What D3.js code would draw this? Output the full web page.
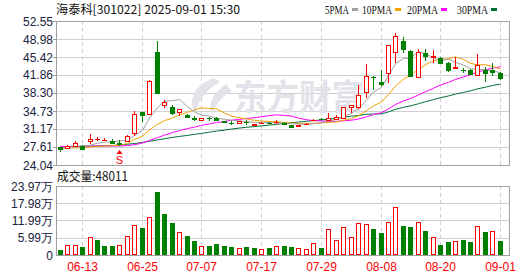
<!DOCTYPE html>
<html><head><meta charset="utf-8">
<script src="https://cdn.jsdelivr.net/npm/d3@7/dist/d3.min.js"></script>
<style>body{margin:0;background:#fff}svg{display:block}</style>
</head><body><div id="chart"></div>
<script>
const dates = ["06-10","06-11","06-12","06-13","06-16","06-17","06-18","06-19","06-20","06-23","06-24","06-25","06-26","06-27","06-30",
"07-01","07-02","07-03","07-04","07-07","07-08","07-09","07-10","07-11","07-14","07-15","07-16","07-17","07-18","07-21","07-22","07-23","07-24","07-25","07-28","07-29","07-30","07-31",
"08-01","08-04","08-05","08-06","08-07","08-08","08-11","08-12","08-13","08-14","08-15","08-18","08-19","08-20","08-21","08-22","08-25","08-26","08-27","08-28","08-29","09-01"];
const open  = [27.6,27.4,27.8,27.8,28.7,29.15,28.9,28.7,28.45,28.85, 30.3,34.47,34.08,46.41,35.9,35.46,34.53,34.0,33.25,32.95, 33.4,33.35,32.75,32.4,32.3,32.55,31.95,32.35,32.35,32.5, 32.4,31.96,31.82,32.15,32.9,33.15,32.95,33.15,33.28,35.46, 35.58,38.55,41.55,40.53,42.19,46.35,48.59,46.61,41.52,46.15, 45.36,45.17,44.3,43.18,42.9,42.85,41.8,42.85,42.85,42.19];
const high  = [27.7,28.0,28.7,28.05,30.2,29.65,29.4,29.25,29.0,30.05, 34.73,34.5,40.8,48.59,36.9,35.92,35.1,34.2,33.74,33.4, 33.6,33.5,32.85,32.7,32.8,32.95,32.25,32.6,32.5,32.95, 32.5,32.0,32.05,32.35,33.2,33.3,34.27,33.88,35.5,35.9, 39.88,44.04,41.6,42.85,47.8,50.11,49.32,46.81,46.95,46.95, 46.81,45.36,44.35,45.36,43.2,43.0,46.02,43.38,44.17,42.51];
const low   = [26.55,27.3,27.7,26.95,28.2,28.7,28.7,28.2,27.9,28.7, 29.8,32.6,33.9,38.1,35.27,33.94,33.74,33.4,32.8,32.9, 32.85,32.85,32.45,32.0,32.3,31.9,31.95,32.2,32.2,32.15, 32.0,31.6,31.8,32.1,32.75,32.9,32.9,33.0,33.2,34.4, 35.07,37.25,38.89,39.74,40.33,44.3,46.15,41.52,41.5,44.69, 44.17,44.04,42.51,43.15,42.2,41.9,41.8,40.53,41.66,40.87];
const close = [27.3,27.9,28.3,27.15,29.25,29.2,28.95,28.45,28.2,29.8, 34.08,33.94,40.67,38.36,36.5,34.4,35.07,33.6,33.2,33.35, 33.35,32.95,32.55,32.35,32.75,32.5,32.2,32.4,32.3,32.6, 32.15,31.63,32.0,32.2,33.0,33.1,33.35,33.5,35.46,35.86, 37.9,41.66,41.5,40.0,47.74,49.58,46.95,41.72,46.35,45.62, 45.68,44.3,42.85,43.44,42.85,42.0,43.78,42.19,42.45,41.2];
const volume = [1.71,3.31,3.31,2.63,6.28,5.14,3.08,3.08,3.31,6.73, 10.5,9.24,13.24,21.9,14.38,10.96,8.1,6.5,4.79,2.97, 3.08,3.77,3.08,2.74,2.28,2.74,2.4,1.94,2.4,3.08, 3.08,2.63,2.28,1.94,4.34,2.4,9.13,5.37,9.81,6.39, 11.18,10.84,8.9,7.53,11.52,16.66,10.15,9.81,11.52,8.22, 6.39,3.42,4.45,5.02,5.14,4.45,10.15,7.88,8.22,4.80];
const volumeUp = [0,1,1,0,1,0,0,0,1,1, 1,0,1,0,0,0,1,0,0,1, 0,0,0,0,1,0,0,1,0,1, 0,0,1,1,1,0,1,1,1,1, 1,1,0,0,1,1,0,0,1,0, 1,0,0,1,0,0,1,0,1,0];
const ma5  = [27.45,27.5,27.65,27.6,27.98,28.36,28.57,28.6,28.81,28.92, 29.9,30.89,33.34,35.37,36.71,36.77,37.0,35.59,34.55,33.92, 33.71,33.29,33.08,32.91,32.79,32.62,32.47,32.44,32.43,32.4, 32.33,32.22,32.14,32.12,32.2,32.39,32.73,33.03,33.68,34.25, 35.21,36.88,38.48,39.38,41.76,44.1,45.15,45.2,46.47,46.04, 45.26,44.73,44.96,44.38,43.82,43.09,42.98,42.85,42.65,42.32];
const ma10 = [27.35,27.4,27.45,27.45,27.6,27.7,27.8,27.85,27.95,28.3, 29.13,29.73,30.97,32.09,32.82,33.34,33.95,34.46,34.96,35.32, 35.24,35.15,34.33,33.73,33.36,33.17,32.88,32.76,32.67,32.6, 32.48,32.34,32.29,32.27,32.3,32.36,32.47,32.58,32.9,33.23, 33.8,34.8,35.75,36.53,38.01,39.66,41.02,41.84,42.93,43.9, 44.68,44.94,45.08,45.42,44.93,44.18,43.86,43.91,43.52,43.07];
const ma20 = [27.7,27.7,27.7,27.75,27.8,27.8,27.8,27.8,27.8,27.9, 28.05,28.4,28.9,29.45,29.95,30.45,30.85,31.25,31.55,31.88, 32.19,32.44,32.65,32.91,33.09,33.25,33.41,33.61,33.82,33.96, 33.86,33.74,33.31,33.0,32.83,32.76,32.68,32.67,32.78,32.91, 33.14,33.57,34.02,34.4,35.15,36.01,36.74,37.21,37.91,38.56, 39.24,39.87,40.42,40.98,41.47,41.92,42.44,42.87,43.22,43.49];
const ma30 = [27.7,27.7,27.72,27.75,27.78,27.8,27.85,27.9,28.0,28.15, 28.3,28.5,28.75,29.0,29.25,29.5,29.7,29.9,30.1,30.3, 30.55,30.75,30.95,31.15,31.35,31.5,31.65,31.8,31.95,32.1, 32.28,32.41,32.53,32.7,32.82,32.95,33.1,33.27,33.51,33.71, 33.84,34.1,34.12,34.18,34.55,35.06,35.46,35.73,36.17,36.57, 36.99,37.36,37.71,38.08,38.41,38.73,39.12,39.44,39.78,40.07];
const priceTicks = [52.55,48.98,45.42,41.86,38.30,34.73,31.17,27.61,24.04];
const volumeTicks = [0,5.99,11.99,17.98,23.97];
const volumeTickLabels = ["0","5.99万","11.99万","17.98万","23.97万"];
const dateTicks = ["06-13","06-25","07-07","07-17","07-29","08-08","08-20","09-01"];
const maNames = ["5PMA","10PMA","20PMA","30PMA"];
const maColors = ["#a0a0a0","#f2a100","#ff00ff","#006f35"];
const title = "海泰科[301022] 2025-09-01 15:30";
const volumeTitle = "成交量:48011";

const W=530,H=276, L=56, R=509, pTop=21, pBot=165, vTop=186, vBot=255;
const RED="#ff0000", GREEN="#008000", GRID="#d0d0d0", FRAME="#a0a0a0", AXT="#1a2240";
const svg=d3.select("#chart").append("svg").attr("width",W).attr("height",H);

const x=d3.scaleBand().domain(d3.range(dates.length)).range([L,503.6]);
const cx=i=>Math.round(x(i)+x.bandwidth()/2);
const yP=d3.scaleLinear().domain([24.04,52.55]).range([pBot,pTop]);
const yV=d3.scaleLinear().domain([0,23.97]).range([vBot,vTop]);
const font="'Liberation Sans',Arial,sans-serif";
const cjk="'Noto Sans CJK SC','Noto Sans',sans-serif";

svg.append("g").selectAll("line").data(priceTicks).join("line")
 .attr("x1",L).attr("x2",R).attr("y1",d=>Math.round(yP(d))+0.5).attr("y2",d=>Math.round(yP(d))+0.5)
 .attr("stroke",GRID);
svg.append("g").selectAll("line").data(volumeTicks).join("line")
 .attr("x1",L).attr("x2",R).attr("y1",d=>Math.round(yV(d))+0.5).attr("y2",d=>Math.round(yV(d))+0.5)
 .attr("stroke",GRID);
const tickIdx=dateTicks.map(t=>dates.indexOf(t));
[[pTop,pBot],[vTop,vBot]].forEach(([a,b])=>{
 svg.append("g").selectAll("line").data(tickIdx).join("line")
  .attr("x1",i=>cx(i)+0.5).attr("x2",i=>cx(i)+0.5).attr("y1",a).attr("y2",b)
  .attr("stroke",GRID).attr("stroke-dasharray","4,3");
});

// watermark
const wm=svg.append("g").attr("fill","#e2e2e8");
wm.append("path").attr("d","M214,78 C196,84 186,100 196,113 C198,101 205,90 220,82 Z M226,84 C214,92 207,104 212,114 C216,104 222,96 232,91 Z");
wm.append("text").attr("x",234).attr("y",110).attr("font-family",cjk).attr("font-weight","bold")
 .attr("font-size",35).attr("textLength",130).attr("lengthAdjust","spacingAndGlyphs").text("东方财富");

svg.append("rect").attr("x",L+0.5).attr("y",pTop+0.5).attr("width",R-L).attr("height",pBot-pTop).attr("fill","none").attr("stroke",FRAME);
svg.append("rect").attr("x",L+0.5).attr("y",vTop+0.5).attr("width",R-L).attr("height",vBot-vTop).attr("fill","none").attr("stroke",FRAME);

const ay=svg.append("g");
ay.selectAll("line.p").data(priceTicks).join("line").attr("x1",L-3).attr("x2",L)
 .attr("y1",d=>Math.round(yP(d))+0.5).attr("y2",d=>Math.round(yP(d))+0.5).attr("stroke",FRAME);
ay.selectAll("text.p").data(priceTicks).join("text").attr("x",L-3).attr("y",d=>yP(d)+4.5)
 .attr("text-anchor","end").attr("font-family",font).attr("font-size",12).attr("fill",AXT).text(d=>d.toFixed(2));
ay.selectAll("text.v").data(volumeTicks).join("text").attr("x",L-3).attr("y",(d,i)=>yV(d)+4.5)
 .attr("text-anchor","end").attr("font-family",font).attr("font-size",12).attr("fill",AXT).text((d,i)=>volumeTickLabels[i]);
svg.append("g").selectAll("text").data(tickIdx).join("text").attr("x",i=>cx(i)+0.5).attr("y",271)
 .attr("text-anchor","middle").attr("font-family",font).attr("font-size",12).attr("fill",RED).text(i=>dates[i]);

svg.append("text").attr("x",56).attr("y",14).attr("font-family",cjk).attr("font-size",12).attr("fill","#111")
 .attr("textLength",184).attr("lengthAdjust","spacingAndGlyphs").text(title);
svg.append("text").attr("x",57).attr("y",181).attr("font-family",cjk).attr("font-size",12.5).attr("fill","#111")
 .attr("textLength",71).attr("lengthAdjust","spacingAndGlyphs").text(volumeTitle);
const legX=[325,362,407,457], legW=[24,30,31,31];
const lg=svg.append("g");
maNames.forEach((n,k)=>{
 lg.append("text").attr("x",legX[k]).attr("y",13.5).attr("font-family","'Liberation Serif','DejaVu Serif',serif")
  .attr("font-size",13).attr("fill","#111").attr("textLength",legW[k]).attr("lengthAdjust","spacingAndGlyphs").text(n);
 lg.append("rect").attr("x",legX[k]+legW[k]+3).attr("y",8).attr("width",6).attr("height",3).attr("fill",maColors[k]);
});

const line=arr=>d3.line().x((d,i)=>cx(i)+0.5).y(d=>yP(d))(arr);
[ma30,ma20,ma10,ma5].forEach((arr,k)=>{
 svg.append("path").attr("d",line(arr)).attr("fill","none").attr("stroke",maColors[3-k]).attr("stroke-width",1);
});

const cg=svg.append("g");
dates.forEach((d,i)=>{
 const up=close[i]>=open[i], c=cx(i), col=up?RED:GREEN;
 const yh=Math.round(yP(high[i])), yl=Math.round(yP(low[i]));
 const yt=Math.round(yP(Math.max(open[i],close[i]))), yb=Math.round(yP(Math.min(open[i],close[i])));
 if(up){
  cg.append("line").attr("x1",c+0.5).attr("x2",c+0.5).attr("y1",yh).attr("y2",yt).attr("stroke",col);
  cg.append("line").attr("x1",c+0.5).attr("x2",c+0.5).attr("y1",yb).attr("y2",yl).attr("stroke",col);
  if(yb-yt<2) cg.append("rect").attr("x",c-2).attr("y",yt).attr("width",5).attr("height",Math.max(1,yb-yt+1)).attr("fill",col);
  else cg.append("rect").attr("x",c-1.5).attr("y",yt+0.5).attr("width",4).attr("height",yb-yt).attr("fill","#fff").attr("stroke",col);
 } else {
  cg.append("line").attr("x1",c+0.5).attr("x2",c+0.5).attr("y1",yh).attr("y2",yl).attr("stroke",col);
  cg.append("rect").attr("x",c-2).attr("y",yt).attr("width",5).attr("height",Math.max(1,yb-yt+1)).attr("fill",col);
 }
});

const si=dates.indexOf("06-20");
svg.append("path").attr("d",`M${cx(si)+0.5},${150} l-3,4 h6 Z`).attr("fill",RED);
svg.append("text").attr("x",cx(si)+0.5).attr("y",164).attr("text-anchor","middle").attr("font-family",font)
 .attr("font-size",11).attr("fill",RED).text("S");

const vg=svg.append("g");
volume.forEach((v,i)=>{
 const c=cx(i), yt=Math.round(yV(v));
 if(volumeUp[i]) vg.append("rect").attr("x",c-1.5).attr("y",yt+0.5).attr("width",4).attr("height",vBot-yt-1).attr("fill","#fff").attr("stroke",RED);
 else vg.append("rect").attr("x",c-2).attr("y",yt).attr("width",5).attr("height",vBot-yt).attr("fill",GREEN);
});
</script></body></html>
